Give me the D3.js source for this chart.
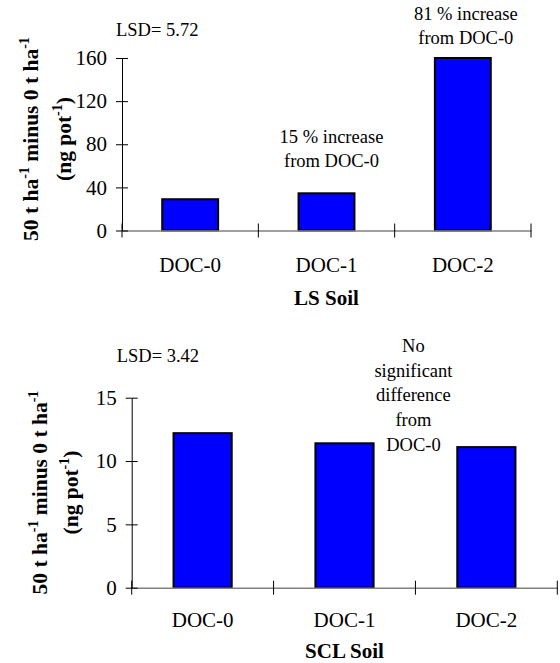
<!DOCTYPE html>
<html>
<head>
<meta charset="UTF-8">
<script src="https://cdn.jsdelivr.net/npm/d3@7"></script>
</head>
<body style="margin:0">
<script>
// data
const categories = ["DOC-0", "DOC-1", "DOC-2"];
const lsValues = [29, 34.5, 160];
const sclValues = [12.2, 11.4, 11.1];
const lsTicks = [0, 40, 80, 120, 160];
const sclTicks = [0, 5, 10, 15];
const lsNote1 = ["15 % increase", "from DOC-0"];
const lsNote2 = ["81 % increase", "from DOC-0"];
const sclNote = ["No", "significant", "difference", "from", "DOC-0"];

const width = 560, height = 663;
const serif = '"Liberation Serif"';

const svg = d3.select("body").append("svg")
    .attr("width", width)
    .attr("height", height);

// one panel of the figure
function drawPanel(p) {
    const x = d3.scaleBand().domain(categories).range([p.left, p.right]).paddingInner(0);
    const y = d3.scaleLinear().domain([0, p.max]).range([p.bottom, p.top]);
    const g = svg.append("g");

    // bars
    const bw = x.bandwidth() * 0.41;
    g.selectAll("rect")
        .data(p.values)
        .join("rect")
        .attr("x", (d, i) => x(categories[i]) + (x.bandwidth() - bw) / 2)
        .attr("y", d => y(d))
        .attr("width", bw)
        .attr("height", d => y(0) - y(d))
        .attr("fill", "#0000ff")
        .attr("stroke", "#000")
        .attr("stroke-width", 2);

    // x axis: gray line, labels at band centres
    const xa = g.append("g")
        .attr("transform", `translate(0,${p.bottom})`)
        .call(d3.axisBottom(x).tickSize(0).tickPadding(p.xPad));
    xa.select(".domain").attr("stroke", "#808080").attr("stroke-width", 1.5);
    xa.selectAll("text").style("font-family", serif).attr("font-size", 21);

    // crossing ticks on the band boundaries
    const bounds = d3.range(categories.length + 1).map(i => p.left + i * x.bandwidth());
    g.append("g").selectAll("line")
        .data(bounds)
        .join("line")
        .attr("x1", d => d).attr("x2", d => d)
        .attr("y1", p.bottom - 7).attr("y2", p.bottom + 7)
        .attr("stroke", "#000");

    // y axis
    const ya = g.append("g")
        .attr("transform", `translate(${p.left},0)`)
        .call(d3.axisLeft(y).tickValues(p.ticks).tickSize(6).tickSizeOuter(0).tickPadding(9));
    ya.select(".domain").attr("stroke", "#000");
    ya.selectAll(".tick line").attr("x1", 6).attr("stroke", "#000");
    ya.selectAll("text").style("font-family", serif).attr("font-size", 21);

    // rotated y title, two lines with superscripts
    const t1 = g.append("text")
        .attr("transform", `translate(${p.yl1},${p.ymid}) rotate(-90)`)
        .attr("text-anchor", "middle")
        .style("font-family", serif)
        .attr("font-weight", "bold")
        .attr("font-size", 21.5);
    t1.append("tspan").text("50 t ha");
    t1.append("tspan").attr("dy", -9).attr("font-size", 14).text("-1");
    t1.append("tspan").attr("dy", 9).text(" minus 0 t  ha");
    t1.append("tspan").attr("dy", -9).attr("font-size", 14).text("-1");

    const t2 = g.append("text")
        .attr("transform", `translate(${p.yl2},${p.ymid}) rotate(-90)`)
        .attr("text-anchor", "middle")
        .style("font-family", serif)
        .attr("font-weight", "bold")
        .attr("font-size", 21.5);
    t2.append("tspan").text("(ng pot");
    t2.append("tspan").attr("dy", -9).attr("font-size", 14).text("-1");
    t2.append("tspan").attr("dy", 9).text(")");

    // x title
    g.append("text")
        .attr("x", (p.left + p.right) / 2)
        .attr("y", p.titleY)
        .attr("text-anchor", "middle")
        .style("font-family", serif)
        .attr("font-weight", "bold")
        .attr("font-size", 21)
        .text(p.title);

    // LSD
    g.append("text")
        .attr("x", p.lsdX).attr("y", p.lsdY)
        .style("font-family", serif)
        .attr("font-size", 18.5)
        .text(p.lsd);

    // notes
    p.notes.forEach(n => {
        g.append("text")
            .attr("text-anchor", "middle")
            .style("font-family", serif)
            .attr("font-size", 18.5)
            .selectAll("tspan")
            .data(n.lines)
            .join("tspan")
            .attr("x", n.x(x))
            .attr("y", (d, i) => n.y + i * n.lh)
            .text(d => d);
    });
}

drawPanel({
    values: lsValues, ticks: lsTicks, max: 160,
    left: 122, right: 531, top: 58, bottom: 230.5,
    xPad: 27, title: "LS Soil", titleY: 305,
    yl1: 38, yl2: 71, ymid: 139,
    lsd: "LSD= 5.72", lsdX: 116, lsdY: 36,
    notes: [
        { lines: lsNote1, x: s => s("DOC-1") + s.bandwidth() / 2 + 5, y: 143, lh: 24 },
        { lines: lsNote2, x: s => s("DOC-2") + s.bandwidth() / 2 + 3, y: 20, lh: 23.5 }
    ]
});

drawPanel({
    values: sclValues, ticks: sclTicks, max: 15,
    left: 131.7, right: 557.3, top: 397.7, bottom: 587.7,
    xPad: 24, title: "SCL Soil", titleY: 658,
    yl1: 46.5, yl2: 78, ymid: 492.5,
    lsd: "LSD= 3.42", lsdX: 116.7, lsdY: 361.7,
    notes: [
        { lines: sclNote, x: s => s("DOC-2") - 2, y: 352, lh: 24.7 }
    ]
});
</script>
</body>
</html>
